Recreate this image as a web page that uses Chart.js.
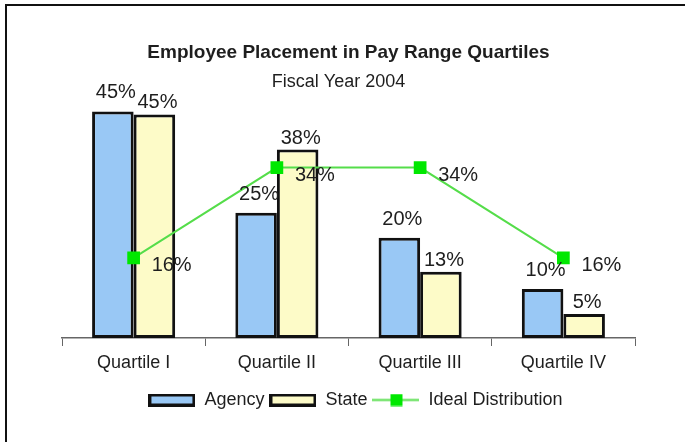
<!DOCTYPE html>
<html>
<head>
<meta charset="utf-8">
<script src="https://cdn.jsdelivr.net/npm/chart.js@4.4.1/dist/chart.umd.min.js"></script>
<style>
  body { margin: 0; background: #fff; }
  #wrap { position: relative; width: 685px; height: 442px; overflow: hidden; }
  #frame { position: absolute; left: 5px; top: 4px; width: 700px; height: 470px; border-top: 2px solid #111; border-left: 2px solid #111; }
  canvas { position: absolute; left: 0; top: 0; }
</style>
</head>
<body>
<div id="wrap">
  <div id="frame"></div>
  <canvas id="chart" width="685" height="442"></canvas>
</div>
<script>
const categories = ["Quartile I", "Quartile II", "Quartile III", "Quartile IV"];
const agency = [45.2, 25, 20, 9.8];
const state = [44.6, 37.6, 13.2, 4.8];
const ideal = [16, 34, 34, 16];

const textColor = "#1e1e1e";
const fontFamily = "'Liberation Sans', Arial, sans-serif";
const agencyFill = "#99c8f5";
const stateFill = "#fdfbc8";
const lineColor = "#55dd4a";
const markerColor = "#00e800";

// gap between bar top and its label, per dataset
const labelGap = [13, 6];

function boxSwatch(fill) {
  const c = document.createElement("canvas");
  c.width = 47;
  c.height = 13;
  const g = c.getContext("2d");
  g.fillStyle = fill;
  g.fillRect(0, 0, 47, 13);
  g.strokeStyle = "#111";
  g.lineWidth = 3;
  g.strokeRect(1.5, 1.5, 44, 10);
  return c;
}

function lineSwatch() {
  const c = document.createElement("canvas");
  c.width = 47;
  c.height = 13;
  const g = c.getContext("2d");
  g.strokeStyle = lineColor;
  g.lineWidth = 2;
  g.beginPath();
  g.moveTo(0, 6.5);
  g.lineTo(47, 6.5);
  g.stroke();
  g.fillStyle = markerColor;
  g.fillRect(18, 0.5, 12, 12);
  return c;
}

const swatches = [boxSwatch(agencyFill), boxSwatch(stateFill), lineSwatch()];

const valueLabels = {
  id: "valueLabels",
  afterDatasetsDraw(chart) {
    const ctx = chart.ctx;
    ctx.save();
    ctx.font = "20px " + fontFamily;
    ctx.fillStyle = textColor;
    ctx.textBaseline = "alphabetic";
    chart.data.datasets.forEach((ds, i) => {
      const meta = chart.getDatasetMeta(i);
      meta.data.forEach((el, j) => {
        const text = Math.round(ds.data[j]) + "%";
        if (ds.type === "line") {
          ctx.textAlign = "left";
          ctx.fillText(text, el.x + 18, el.y + 13);
        } else {
          ctx.textAlign = "center";
          ctx.fillText(text, el.x + 3, el.y - labelGap[i]);
        }
      });
    });
    ctx.restore();
  }
};

// nudge subtitle and legend sideways like the original
const boxNudge = {
  id: "boxNudge",
  afterLayout(chart) {
    chart.boxes.forEach(b => {
      if (b === chart.legend) {
        b.left += 7;
        b.right += 7;
      } else if (b.options && b.options.text === "Fiscal Year 2004") {
        b.left -= 10;
        b.right -= 10;
      }
    });
  }
};

new Chart(document.getElementById("chart"), {
  type: "bar",
  data: {
    labels: categories,
    datasets: [
      {
        label: "Agency",
        data: agency,
        backgroundColor: agencyFill,
        borderColor: "#111",
        borderWidth: 3,
        borderSkipped: false,
        order: 1
      },
      {
        label: "State",
        data: state,
        backgroundColor: stateFill,
        borderColor: "#111",
        borderWidth: 3,
        borderSkipped: false,
        order: 1
      },
      {
        type: "line",
        label: "Ideal Distribution",
        data: ideal,
        borderColor: lineColor,
        borderWidth: 2,
        pointStyle: "rect",
        pointRadius: 9,
        pointBackgroundColor: markerColor,
        pointBorderColor: markerColor,
        pointBorderWidth: 0,
        tension: 0,
        order: 0
      }
    ]
  },
  options: {
    responsive: false,
    animation: false,
    layout: { padding: { left: 62, right: 50, top: 0, bottom: 23 } },
    datasets: {
      bar: { categoryPercentage: 0.58, barPercentage: 1 }
    },
    plugins: {
      title: {
        display: true,
        text: "Employee Placement in Pay Range Quartiles",
        color: textColor,
        font: { family: fontFamily, size: 19, weight: "bold" },
        padding: { top: 41, bottom: 7 }
      },
      subtitle: {
        display: true,
        text: "Fiscal Year 2004",
        color: textColor,
        font: { family: fontFamily, size: 18 },
        padding: { top: 0, bottom: 0 }
      },
      legend: {
        position: "bottom",
        labels: {
          usePointStyle: true,
          pointStyleWidth: 47,
          boxHeight: 13,
          padding: 5,
          color: textColor,
          font: { family: fontFamily, size: 18 },
          generateLabels: chart => chart.data.datasets.map((ds, i) => ({
            text: ds.label,
            pointStyle: swatches[i],
            datasetIndex: i,
            hidden: false,
            fontColor: textColor,
            lineWidth: 0,
            strokeStyle: "transparent",
            fillStyle: "transparent"
          }))
        }
      },
      tooltip: { enabled: false }
    },
    scales: {
      x: {
        grid: { display: true, drawOnChartArea: false, drawTicks: true, tickLength: 8, color: "#666", offset: true },
        border: { display: true, color: "#666", width: 1.5 },
        ticks: { color: textColor, padding: 6, font: { family: fontFamily, size: 18 } },
        afterFit(scale) { scale.height = 48; }
      },
      y: {
        display: false,
        min: 0,
        max: 49
      }
    }
  },
  plugins: [valueLabels, boxNudge]
});
</script>
</body>
</html>
